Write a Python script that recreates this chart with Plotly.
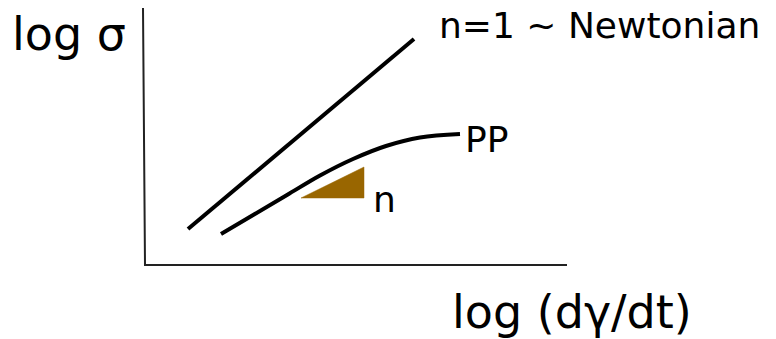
import plotly.graph_objects as go

# Schematic data (pixel-like coordinate system, y grows downward)
axis_x = [143, 145, 567]
axis_y = [8, 265, 265]

newtonian_x = [188, 414]
newtonian_y = [229, 39]

pp_x = [221, 254, 287, 320, 353, 386, 420, 460]
pp_y = [234, 214.5, 195, 175.5, 159, 146, 137.5, 134]

triangle_x = [301, 364, 364, 301]
triangle_y = [198, 167, 198, 198]

labels = ["log σ", "n=1 ~ Newtonian", "PP", "n", "log (dγ/dt)"]
label_x = [10, 437, 463, 371, 450]
label_y = [34, 25, 139, 199, 312]
label_size = [46, 36, 36, 36, 46]

fig = go.Figure()
fig.add_trace(go.Scatter(x=axis_x, y=axis_y, mode="lines",
                         line=dict(color="#222222", width=2), hoverinfo="skip"))
fig.add_trace(go.Scatter(x=triangle_x, y=triangle_y, mode="lines", fill="toself",
                         fillcolor="#996600", line=dict(color="#996600", width=0.5),
                         hoverinfo="skip"))
fig.add_trace(go.Scatter(x=newtonian_x, y=newtonian_y, mode="lines",
                         line=dict(color="black", width=4), hoverinfo="skip"))
fig.add_trace(go.Scatter(x=pp_x, y=pp_y, mode="lines",
                         line=dict(color="black", width=4, shape="spline", smoothing=1.0),
                         hoverinfo="skip"))

for t, x, y, s in zip(labels, label_x, label_y, label_size):
    fig.add_annotation(x=x, y=y, text=t, showarrow=False, xanchor="left", yanchor="middle",
                       font=dict(family="DejaVu Sans", size=s, color="black"))

# the page body has an 8px margin, so the ranges are offset by 8
fig.update_layout(
    width=776, height=339, margin=dict(l=0, r=0, t=0, b=0),
    paper_bgcolor="white", plot_bgcolor="white", showlegend=False,
    xaxis=dict(range=[8, 784], visible=False, fixedrange=True),
    yaxis=dict(range=[347, 8], visible=False, fixedrange=True),
)
fig.write_html("out.html")
